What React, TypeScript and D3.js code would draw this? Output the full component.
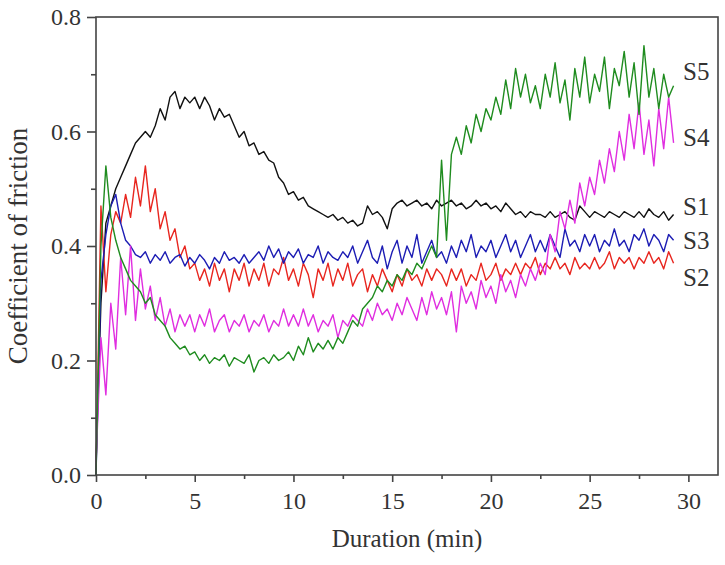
import { useEffect, useRef } from "react";
import * as d3 from "d3";

// sampling step of the friction traces (min)
const STEP = 0.25;

const xTicks = [0, 5, 10, 15, 20, 25, 30];
const xMinor = [2.5, 7.5, 12.5, 17.5, 22.5, 27.5];
const yTicks = [0, 0.2, 0.4, 0.6, 0.8];
const yMinor = [0.1, 0.3, 0.5, 0.7];

// S1 (black)
const s1 = [
  0.02, 0.30, 0.44, 0.47, 0.50, 0.52, 0.54, 0.56, 0.58, 0.59,
  0.60, 0.59, 0.61, 0.64, 0.62, 0.66, 0.67, 0.64, 0.66, 0.65,
  0.66, 0.64, 0.66, 0.645, 0.62, 0.64, 0.625, 0.63, 0.61, 0.59,
  0.60, 0.575, 0.58, 0.56, 0.565, 0.55, 0.545, 0.52, 0.51, 0.49,
  0.495, 0.48, 0.485, 0.47, 0.465, 0.46, 0.455, 0.45, 0.455, 0.445,
  0.45, 0.44, 0.445, 0.435, 0.44, 0.47, 0.455, 0.46, 0.45, 0.43,
  0.465, 0.475, 0.48, 0.47, 0.475, 0.48, 0.47, 0.475, 0.465, 0.48,
  0.47, 0.475, 0.48, 0.47, 0.475, 0.465, 0.47, 0.48, 0.47, 0.475,
  0.465, 0.47, 0.46, 0.475, 0.465, 0.455, 0.46, 0.45, 0.46, 0.455,
  0.455, 0.45, 0.46, 0.45, 0.455, 0.46, 0.45, 0.445, 0.47, 0.46,
  0.45, 0.46, 0.455, 0.45, 0.46, 0.455, 0.45, 0.46, 0.455, 0.45,
  0.46, 0.45, 0.465, 0.455, 0.45, 0.46, 0.445, 0.455,
];

// S2 (red)
const s2 = [
  0.0, 0.47, 0.32, 0.42, 0.46, 0.44, 0.49, 0.45, 0.52, 0.47,
  0.54, 0.46, 0.50, 0.43, 0.46, 0.41, 0.43, 0.38, 0.40, 0.36,
  0.37, 0.34, 0.36, 0.33, 0.37, 0.34, 0.36, 0.32, 0.36, 0.34,
  0.37, 0.33, 0.36, 0.34, 0.37, 0.33, 0.36, 0.35, 0.38, 0.34,
  0.36, 0.33, 0.37, 0.35, 0.31, 0.36, 0.34, 0.37, 0.33, 0.36,
  0.34, 0.37, 0.33, 0.35, 0.36, 0.32, 0.35, 0.33, 0.36, 0.34,
  0.32, 0.35, 0.33, 0.36, 0.34, 0.35, 0.33, 0.36, 0.34, 0.36,
  0.35, 0.33, 0.36, 0.34, 0.36, 0.33, 0.35, 0.34, 0.37, 0.34,
  0.35, 0.37, 0.34, 0.36, 0.35, 0.37, 0.35, 0.37, 0.36, 0.38,
  0.35, 0.37, 0.36, 0.38, 0.36, 0.37, 0.35, 0.38, 0.36, 0.37,
  0.36, 0.38, 0.36, 0.37, 0.39, 0.36, 0.38, 0.37, 0.38, 0.36,
  0.38, 0.37, 0.39, 0.37, 0.38, 0.36, 0.39, 0.37,
];

// S3 (blue)
const s3 = [
  0.0, 0.34, 0.42, 0.47, 0.49, 0.44, 0.41, 0.40, 0.385, 0.38,
  0.39, 0.37, 0.385, 0.375, 0.39, 0.37, 0.38, 0.385, 0.365, 0.38,
  0.37, 0.385, 0.375, 0.36, 0.38, 0.37, 0.39, 0.375, 0.38, 0.37,
  0.385, 0.37, 0.38, 0.39, 0.375, 0.40, 0.38, 0.395, 0.37, 0.39,
  0.38, 0.395, 0.37, 0.385, 0.38, 0.40, 0.37, 0.39, 0.38, 0.375,
  0.39, 0.38, 0.40, 0.37, 0.39, 0.41, 0.38, 0.37, 0.40, 0.36,
  0.39, 0.41, 0.37, 0.40, 0.38, 0.42, 0.37, 0.39, 0.41, 0.38,
  0.39, 0.37, 0.40, 0.38, 0.41, 0.39, 0.42, 0.38, 0.40, 0.39,
  0.41, 0.38, 0.40, 0.42, 0.39, 0.41, 0.38, 0.40, 0.42, 0.39,
  0.41, 0.39, 0.42, 0.40, 0.38, 0.43, 0.40, 0.41, 0.39, 0.42,
  0.40, 0.42, 0.39, 0.41, 0.40, 0.43, 0.40, 0.41, 0.39, 0.42,
  0.41, 0.43, 0.40, 0.42, 0.41, 0.39, 0.42, 0.41,
];

// S4 (magenta)
const s4 = [
  0.02, 0.24, 0.14, 0.30, 0.22, 0.38, 0.28, 0.40, 0.27, 0.36,
  0.29, 0.33, 0.27, 0.31, 0.26, 0.29, 0.25, 0.28, 0.26, 0.28,
  0.25, 0.28, 0.26, 0.29, 0.25, 0.27, 0.28, 0.25, 0.27, 0.26,
  0.28, 0.25, 0.27, 0.26, 0.28, 0.25, 0.27, 0.26, 0.29, 0.26,
  0.28, 0.26, 0.29, 0.26, 0.28, 0.25, 0.27, 0.26, 0.28, 0.24,
  0.27, 0.26, 0.28, 0.27, 0.26, 0.29, 0.27, 0.30, 0.28, 0.29,
  0.27, 0.30, 0.28, 0.31, 0.29, 0.27, 0.31, 0.28, 0.32, 0.29,
  0.31, 0.28, 0.32, 0.25, 0.33, 0.30, 0.32, 0.29, 0.34, 0.31,
  0.33, 0.30, 0.35, 0.32, 0.34, 0.31, 0.35, 0.33, 0.36, 0.34,
  0.37, 0.35, 0.42, 0.39, 0.46, 0.43, 0.48, 0.44, 0.51, 0.47,
  0.52, 0.49, 0.55, 0.51, 0.57, 0.53, 0.60, 0.55, 0.63, 0.57,
  0.65, 0.56, 0.62, 0.54, 0.64, 0.57, 0.66, 0.58,
];

// S5 (green)
const s5 = [
  0.0, 0.40, 0.54, 0.45, 0.41, 0.38, 0.36, 0.34, 0.33, 0.32,
  0.30, 0.31, 0.28, 0.27, 0.26, 0.24, 0.23, 0.22, 0.225, 0.21,
  0.215, 0.20, 0.21, 0.195, 0.205, 0.20, 0.21, 0.19, 0.205, 0.20,
  0.195, 0.21, 0.18, 0.20, 0.205, 0.195, 0.21, 0.20, 0.205, 0.215,
  0.20, 0.225, 0.21, 0.24, 0.215, 0.23, 0.22, 0.235, 0.22, 0.24,
  0.23, 0.25, 0.27, 0.26, 0.29, 0.30, 0.31, 0.33, 0.32, 0.34,
  0.33, 0.35, 0.34, 0.36, 0.35, 0.37, 0.36, 0.38, 0.40, 0.38,
  0.55, 0.41, 0.56, 0.59, 0.56, 0.61, 0.58, 0.63, 0.60, 0.64,
  0.62, 0.66, 0.63, 0.69, 0.64, 0.71, 0.66, 0.70, 0.65, 0.68,
  0.64, 0.70, 0.66, 0.72, 0.65, 0.69, 0.62, 0.71, 0.66, 0.73,
  0.65, 0.70, 0.67, 0.73, 0.64, 0.71, 0.68, 0.74, 0.66, 0.72,
  0.63, 0.75, 0.66, 0.71, 0.64, 0.70, 0.66, 0.68,
];

const seriesNames = ["S1", "S2", "S3", "S4", "S5"];
const seriesValues = [s1, s2, s3, s4, s5];
const seriesColors = ["#111111", "#e8261f", "#1d1db4", "#e02ee0", "#1f8c1f"];
const labelValues = [0.47, 0.345, 0.41, 0.59, 0.705];

const W = 725;
const H = 565;
const FONT = "Liberation Serif, DejaVu Serif, serif";

const App = () => {
  const ref = useRef<SVGSVGElement | null>(null);

  useEffect(() => {
    if (!ref.current) return;
    const svg = d3.select(ref.current);
    svg.selectAll("*").remove();

    const margin = { top: 17, right: 7, bottom: 90, left: 96 };
    const x = d3.scaleLinear().domain([0, 31.5]).range([margin.left, W - margin.right]);
    const y = d3.scaleLinear().domain([0, 0.8]).range([H - margin.bottom, margin.top]);

    svg.append("rect").attr("width", W).attr("height", H).attr("fill", "#fff");

    const line = d3
      .line<number>()
      .x((_, i) => x(i * STEP))
      .y(d => y(d));

    seriesValues.forEach((vals, k) => {
      svg
        .append("path")
        .datum(vals)
        .attr("fill", "none")
        .attr("stroke", seriesColors[k])
        .attr("stroke-width", 1.4)
        .attr("stroke-linejoin", "round")
        .attr("d", line);
    });

    // frame
    svg
      .append("rect")
      .attr("x", x(0))
      .attr("y", y(0.8))
      .attr("width", x(31.5) - x(0))
      .attr("height", y(0) - y(0.8))
      .attr("fill", "none")
      .attr("stroke", "#444")
      .attr("stroke-width", 1.6);

    const bottom = svg.append("g").attr("transform", `translate(0,${y(0)})`);
    bottom.call(d3.axisBottom(x).tickValues(xTicks).tickSize(7).tickPadding(10).tickFormat(d3.format("d")));
    bottom
      .append("g")
      .call(d3.axisBottom(x).tickValues(xMinor).tickSize(4).tickFormat(() => ""));

    const left = svg.append("g").attr("transform", `translate(${x(0)},0)`);
    left.call(d3.axisLeft(y).tickValues(yTicks).tickSize(9).tickPadding(6).tickFormat(d3.format(".1f")));
    left
      .append("g")
      .call(d3.axisLeft(y).tickValues(yMinor).tickSize(5).tickFormat(() => ""));

    svg.selectAll("g").attr("font-family", FONT);
    svg.selectAll(".domain").remove();
    svg.selectAll(".tick line").attr("stroke", "#444").attr("stroke-width", 1.6);
    svg
      .selectAll(".tick text")
      .attr("fill", "#333")
      .attr("font-family", FONT)
      .attr("font-size", 24);

    // series labels
    seriesNames.forEach((name, k) => {
      svg
        .append("text")
        .attr("x", 683)
        .attr("y", y(labelValues[k]))
        .attr("dy", "0.35em")
        .attr("fill", "#333")
        .attr("font-family", FONT)
        .attr("font-size", 25)
        .text(name);
    });

    svg
      .append("text")
      .attr("x", (x(0) + x(31.5)) / 2)
      .attr("y", 547)
      .attr("text-anchor", "middle")
      .attr("fill", "#333")
      .attr("font-family", FONT)
      .attr("font-size", 25)
      .text("Duration (min)");

    svg
      .append("text")
      .attr("transform", `translate(27,${(y(0) + y(0.8)) / 2}) rotate(-90)`)
      .attr("text-anchor", "middle")
      .attr("fill", "#333")
      .attr("font-family", FONT)
      .attr("font-size", 27)
      .text("Coefficient of friction");
  }, []);

  return (
    <svg
      ref={ref}
      width={W}
      height={H}
      style={{ position: "absolute", left: 0, top: 0 }}
    />
  );
};

export default App;
